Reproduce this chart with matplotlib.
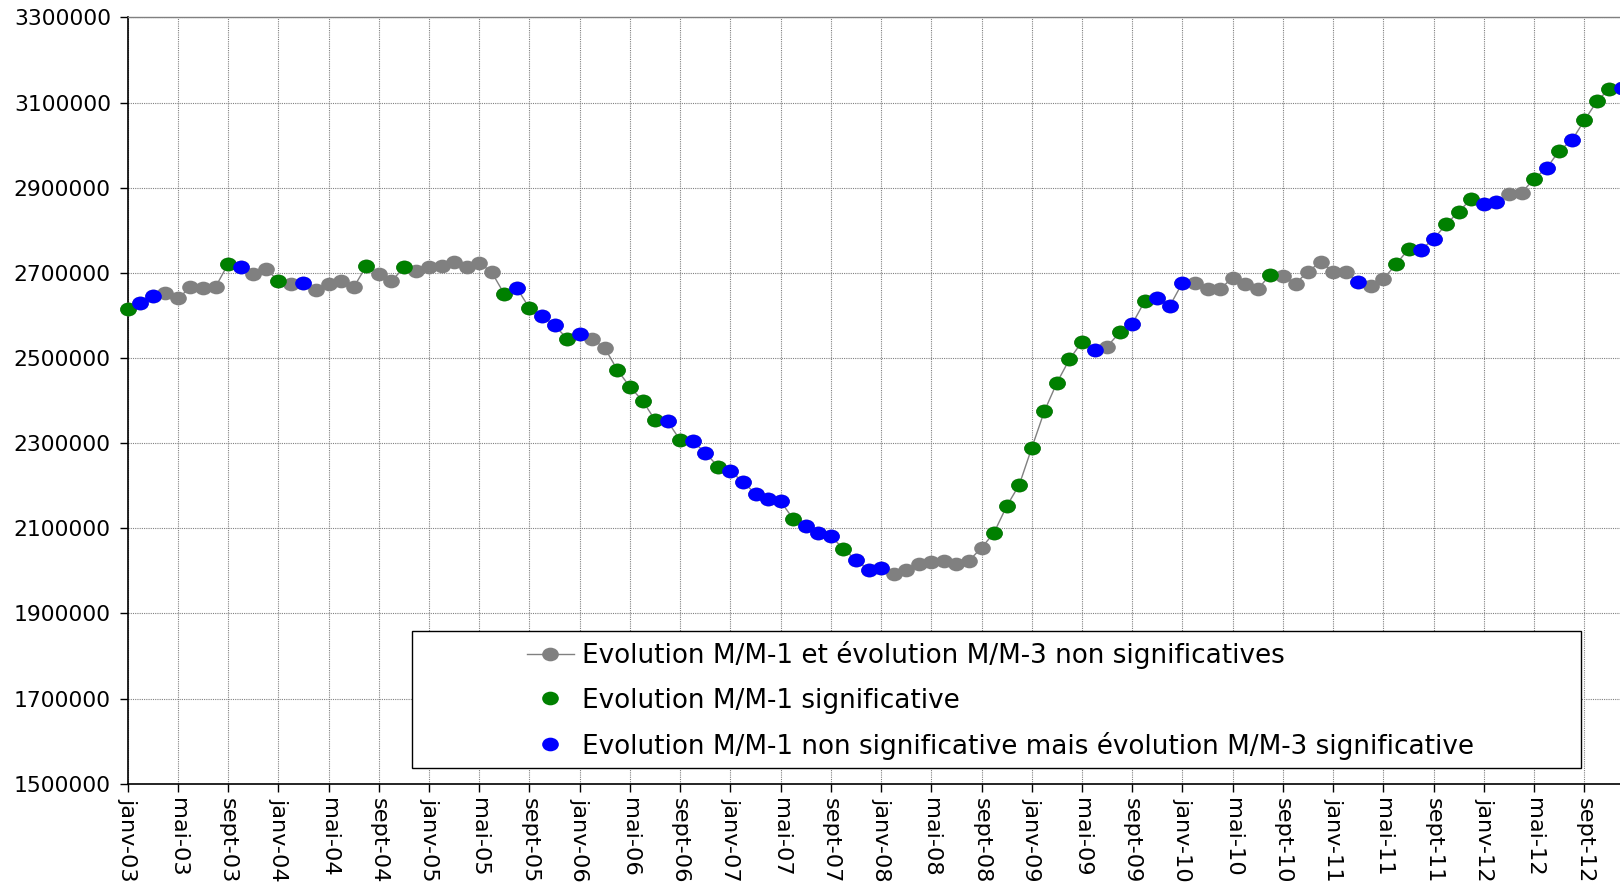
import numpy as np
import matplotlib
matplotlib.use("Agg")
import matplotlib.pyplot as plt
from matplotlib.path import Path
from matplotlib.transforms import Affine2D
from matplotlib.lines import Line2D
from matplotlib.patches import Rectangle

plt.rcParams['font.family'] = ['DejaVu Sans']

# ---- data (monthly, janv-03 .. déc-12) ----
values = [
    2615000, 2629000, 2646000, 2652000, 2640000, 2666000, 2664000, 2667000, 2721000, 2714000,
    2698000, 2709000, 2682000, 2674000, 2676000, 2660000, 2675000, 2681000, 2666000, 2716000,
    2697000, 2680000, 2713000, 2705000, 2714000, 2716000, 2725000, 2714000, 2724000, 2701000,
    2650000, 2664000, 2617000, 2599000, 2577000, 2545000, 2557000, 2545000, 2523000, 2472000,
    2432000, 2400000, 2354000, 2351000, 2307000, 2304000, 2278000, 2245000, 2234000, 2209000,
    2181000, 2169000, 2163000, 2122000, 2106000, 2089000, 2081000, 2052000, 2025000, 2003000,
    2007000, 1993000, 2003000, 2017000, 2020000, 2022000, 2017000, 2024000, 2054000, 2090000,
    2152000, 2202000, 2289000, 2375000, 2442000, 2497000, 2538000, 2519000, 2527000, 2560000,
    2580000, 2634000, 2641000, 2623000, 2677000, 2677000, 2662000, 2662000, 2689000, 2675000,
    2662000, 2696000, 2693000, 2675000, 2703000, 2726000, 2703000, 2701000, 2679000, 2668000,
    2686000, 2720000, 2756000, 2754000, 2780000, 2814000, 2844000, 2874000, 2861000, 2866000,
    2885000, 2888000, 2921000, 2946000, 2987000, 3011000, 3058000, 3103000, 3133000, 3135000,
]
# n = non significant, s = M/M-1 significant, b = M/M-1 non significant but M/M-3 significant
status = list(
    "sbbnnnnnsb"
    "nnsnbnnnns"
    "nnsnnnnnnn"
    "sbsbbsbnns"
    "sssbsbbsbb"
    "bbbsbbbsbb"
    "bnnnnnnnns"
    "sssssssbns"
    "bsbbbnnnnn"
    "nsnnnnnnbn"
    "nssbbsssbb"
    "nnsbsbsssb"
)
month_abbr = ['janv', 'févr', 'mars', 'avr', 'mai', 'juin',
              'juil', 'août', 'sept', 'oct', 'nov', 'déc']
start_year = 2003
labels_legend = [
    "Evolution M/M-1 et évolution M/M-3 non significatives",
    "Evolution M/M-1 significative",
    "Evolution M/M-1 non significative mais évolution M/M-3 significative",
]
y_ticks = list(range(1500000, 3300001, 200000))

# ---- derived ----
vals = np.array(values, dtype=float)
x = np.arange(len(vals))
st = np.array(status)
tick_pos = x[::4]
tick_lab = [f"{month_abbr[m % 12]}-{(start_year + m // 12) % 100:02d}" for m in tick_pos]

GRAY, GREEN, BLUE = '#808080', '#008000', '#0000ff'
ell = Path.unit_circle().transformed(Affine2D().scale(1.22, 1.0))
MS = 12

fig = plt.figure(figsize=(16.2, 8.83), dpi=100)
ax = fig.add_axes([0.0788, 0.1125, 0.9212, 0.8677])

ax.plot(x, vals, color=GRAY, lw=1.0, marker=ell, ms=MS, mfc=GRAY, mec='none',
        clip_on=False, zorder=3)
m = st == 's'
ax.plot(x[m], vals[m], ls='none', marker=ell, ms=MS, mfc=GREEN, mec='none',
        clip_on=False, zorder=4)
m = st == 'b'
ax.plot(x[m], vals[m], ls='none', marker=ell, ms=MS, mfc=BLUE, mec='none',
        clip_on=False, zorder=5)

ax.set_xlim(0, 118.84)
ax.set_ylim(1500000, 3300000)
ax.set_yticks(y_ticks)
ax.set_yticklabels([str(v) for v in y_ticks], fontsize=15.7)
ax.set_xticks(tick_pos)
ax.set_xticklabels(tick_lab, rotation=-90, fontsize=16.2, ha='center', va='top')
ax.tick_params(axis='both', direction='out', length=6, width=1, color='black', pad=6)
ax.tick_params(axis='x', pad=4)

ax.set_axisbelow(True)
ax.grid(True, color='#808080', lw=0.8, ls=(0, (1, 1)))
ax.spines['left'].set_color('black')
ax.spines['left'].set_linewidth(1.2)
ax.spines['bottom'].set_color('black')
ax.spines['bottom'].set_linewidth(1.2)
ax.spines['top'].set_color('#808080')
ax.spines['top'].set_linewidth(1.0)
ax.spines['right'].set_visible(False)

# legend frame
ax.add_patch(Rectangle((0.1903, 0.0201), 0.9739 - 0.1903, 0.1997 - 0.0201,
                       transform=ax.transAxes, facecolor='white', edgecolor='black',
                       lw=1.0, zorder=6))
handles = [
    Line2D([], [], color=GRAY, lw=1.0, marker=ell, ms=MS, mfc=GRAY, mec='none'),
    Line2D([], [], ls='none', marker=ell, ms=MS, mfc=GREEN, mec='none'),
    Line2D([], [], ls='none', marker=ell, ms=MS, mfc=BLUE, mec='none'),
]
leg = ax.legend(handles, labels_legend, loc='center left', bbox_to_anchor=(0.2674, 0.1085),
                frameon=False, fontsize=18.9, handlelength=1.8, handletextpad=0.32,
                labelspacing=0.69, borderpad=0, borderaxespad=0)
leg.set_zorder(7)

fig.savefig("out.png", dpi=100)
